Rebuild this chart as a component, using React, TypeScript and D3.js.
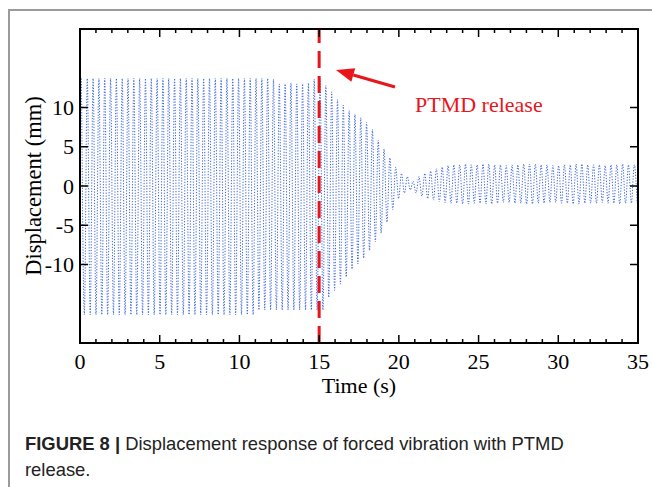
import React from 'react';
import * as d3 from 'd3';

// ---- data ----
const X_TICKS = [0, 5, 10, 15, 20, 25, 30, 35];
const X_MINOR = d3.range(0, 36, 1);
const Y_TICKS = [-10, -5, 0, 5, 10];
const X_DOMAIN = [0, 35];
const Y_DOMAIN = [-20, 20];
const CYCLE_PERIOD = 0.365; // s
const RELEASE_TIME = 15;

// upper (positive) peak of each cycle, mm
const UPPER_PEAKS = [
  13.7, 13.7, 13.7, 13.7, 13.7, 13.7, 13.7, 13.7, 13.7, 13.7,
  13.7, 13.7, 13.7, 13.7, 13.7, 13.7, 13.7, 13.7, 13.7, 13.7,
  13.7, 13.7, 13.7, 13.7, 13.7, 13.7, 13.7, 13.7, 13.7, 13.7,
  13.7, 13.7, 13.7, 13.6, 13.0, 13.0, 13.1, 13.0, 13.0, 13.1,
  13.6, 13.7, 12.8, 12.0, 11.0, 10.3, 9.6, 9.1, 8.7, 8.1,
  7.2, 5.8, 4.7, 3.6, 2.4, 1.6, 1.2, 0.6, 1.2, 1.6,
  1.9, 2.2, 2.4, 2.6, 2.7, 2.7, 2.8, 2.7, 2.7, 2.8,
  2.8, 2.7, 2.7, 2.6, 2.7, 2.7, 2.8, 2.8, 2.8, 2.7,
  2.7, 2.6, 2.6, 2.7, 2.7, 2.8, 2.8, 2.7, 2.7, 2.7,
  2.6, 2.7, 2.7, 2.8, 2.7, 2.7,
];
// lower (negative) peak of each cycle, mm
const LOWER_PEAKS = [
  -16.4, -16.4, -16.4, -16.4, -16.4, -16.4, -16.4, -16.4, -16.4, -16.4,
  -16.4, -16.4, -16.4, -16.4, -16.4, -16.4, -16.4, -16.4, -16.4, -16.4,
  -16.4, -16.4, -16.4, -16.4, -16.4, -16.4, -16.4, -16.4, -16.4, -16.4,
  -15.8, -15.8, -15.8, -15.8, -15.8, -15.8, -15.8, -15.8, -15.8, -15.8,
  -15.8, -15.8, -14.2, -13.3, -12.5, -11.6, -10.6, -9.9, -9.2, -8.2,
  -7.1, -6.0, -4.6, -3.0, -1.6, -0.9, -0.5, -0.9, -1.3, -1.6,
  -1.8, -2.0, -2.1, -2.2, -2.2, -2.3, -2.3, -2.2, -2.2, -2.3,
  -2.3, -2.2, -2.1, -2.1, -2.2, -2.2, -2.3, -2.3, -2.2, -2.2,
  -2.1, -2.1, -2.2, -2.2, -2.3, -2.3, -2.2, -2.2, -2.2, -2.1,
  -2.2, -2.2, -2.3, -2.2, -2.2, -2.2,
];

const X_LABEL = 'Time (s)';
const Y_LABEL = 'Displacement (mm)';
const ANNOTATION = 'PTMD release';
const CAPTION_BOLD = 'FIGURE 8 | ';
const CAPTION_LINE1 = 'Displacement response of forced vibration with PTMD';
const CAPTION_LINE2 = 'release.';

const W = 652;
const H = 487;
const L = 80, R = 638, T = 29, B = 343;
const SERIF = '"Liberation Serif", "Times New Roman", serif';
const SANS = '"Liberation Sans", Arial, Helvetica, sans-serif';
const RED = '#e8161b';
const BLUE = '#3a62e2';

export default function App() {
  const x = d3.scaleLinear().domain(X_DOMAIN).range([L, R]);
  const y = d3.scaleLinear().domain(Y_DOMAIN).range([B, T]);

  const pts: [number, number][] = [];
  UPPER_PEAKS.forEach((u, i) => {
    pts.push([i * CYCLE_PERIOD + CYCLE_PERIOD * 0.25, u]);
    pts.push([i * CYCLE_PERIOD + CYCLE_PERIOD * 0.75, LOWER_PEAKS[i]]);
  });
  const line = d3
    .line<[number, number]>()
    .x((d) => x(d[0]))
    .y((d) => y(d[1]))
    .curve(d3.curveMonotoneX);

  const xr = x(RELEASE_TIME);
  const tip = { x: 336, y: 70 };
  const tail = { x: 395, y: 87 };
  const ang = Math.atan2(tail.y - tip.y, tail.x - tip.x);
  const hl = 18, hw = 7;
  const bx = tip.x + hl * Math.cos(ang), by = tip.y + hl * Math.sin(ang);
  const head = `M${tip.x},${tip.y} L${bx - hw * Math.sin(ang)},${by + hw * Math.cos(ang)} L${bx + hw * Math.sin(ang)},${by - hw * Math.cos(ang)} Z`;

  return (
    <svg
      width={W}
      height={H}
      viewBox={`0 0 ${W} ${H}`}
      style={{ position: 'absolute', left: 0, top: 0, display: 'block', background: '#fff' }}
    >
      {/* page frame */}
      <line x1={8} y1={10} x2={W} y2={10} stroke="#9a9a9a" strokeWidth={2} />
      <line x1={9} y1={10} x2={9} y2={H} stroke="#9a9a9a" strokeWidth={2} />

      <clipPath id="plotclip">
        <rect x={L} y={T} width={R - L} height={B - T} />
      </clipPath>

      {/* signal */}
      <path
        d={line(pts) || ''}
        fill="none"
        stroke={BLUE}
        strokeWidth={1}
        strokeDasharray="1.2 1.6"
        clipPath="url(#plotclip)"
      />

      {/* release line */}
      <line x1={xr} y1={B} x2={xr} y2={T} stroke={RED} strokeWidth={3} strokeDasharray="17 8" />

      {/* axes box */}
      <rect x={L} y={T} width={R - L} height={B - T} fill="none" stroke="#000" strokeWidth={2} />
      {X_MINOR.map((v) => {
        const major = v % 5 === 0;
        const len = major ? 8 : 4;
        return (
          <g key={'xt' + v}>
            <line x1={x(v)} x2={x(v)} y1={B} y2={B - len} stroke="#000" strokeWidth={1.5} />
            <line x1={x(v)} x2={x(v)} y1={T} y2={T + len} stroke="#000" strokeWidth={1.5} />
          </g>
        );
      })}
      {Y_TICKS.map((v) => (
        <g key={'yt' + v}>
          <line x1={L} x2={L + 8} y1={y(v)} y2={y(v)} stroke="#000" strokeWidth={1.5} />
          <line x1={R} x2={R - 8} y1={y(v)} y2={y(v)} stroke="#000" strokeWidth={1.5} />
        </g>
      ))}

      {/* tick labels */}
      {X_TICKS.map((v) => (
        <text key={'xl' + v} x={x(v)} y={369} textAnchor="middle" fontFamily={SERIF} fontSize={22} fill="#000">
          {v}
        </text>
      ))}
      {Y_TICKS.map((v) => (
        <text key={'yl' + v} x={74} y={y(v) + 7.5} textAnchor="end" fontFamily={SERIF} fontSize={22} fill="#000">
          {v}
        </text>
      ))}

      {/* axis titles */}
      <text x={(L + R) / 2} y={393} textAnchor="middle" fontFamily={SERIF} fontSize={22} fill="#000">
        {X_LABEL}
      </text>
      <text
        transform={`translate(41,${y(0)}) rotate(-90)`}
        textAnchor="middle"
        fontFamily={SERIF}
        fontSize={22.5}
        fill="#000"
      >
        {Y_LABEL}
      </text>

      {/* annotation */}
      <line x1={tail.x} y1={tail.y} x2={bx} y2={by} stroke={RED} strokeWidth={3} />
      <path d={head} fill={RED} />
      <text x={415} y={112} fontFamily={SERIF} fontSize={22} fill={RED}>
        {ANNOTATION}
      </text>

      {/* caption */}
      <text x={25} y={450} fontFamily={SANS} fontSize={18.4} fill="#222">
        <tspan fontWeight="bold">{CAPTION_BOLD}</tspan>
        <tspan>{CAPTION_LINE1}</tspan>
      </text>
      <text x={25} y={476} fontFamily={SANS} fontSize={18.4} fill="#222">
        {CAPTION_LINE2}
      </text>
    </svg>
  );
}
